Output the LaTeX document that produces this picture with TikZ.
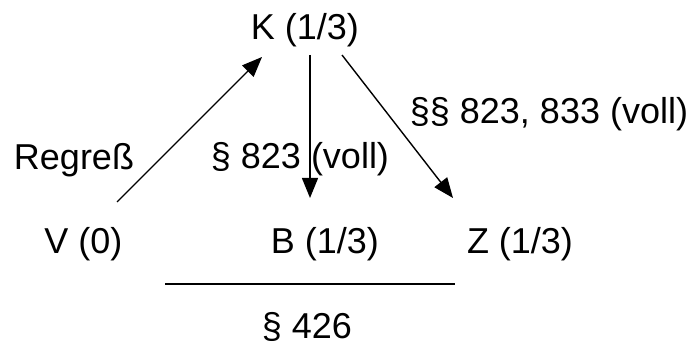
\documentclass[tikz,border=0pt]{standalone}
\usepackage{fontspec}
\setmainfont{Liberation Sans}
\usetikzlibrary{arrows.meta}
\tikzset{
  lbl/.style={anchor=base, inner sep=0pt, font=\fontsize{36}{40}\selectfont},
  arr/.style={line width=1.4pt, -{Triangle[length=20pt,width=16pt]}},
  rule/.style={line width=1.4pt}
}
\begin{document}
\begin{tikzpicture}[x=1pt,y=-1pt]
\useasboundingbox (0,0) rectangle (698,347);
\node[lbl] (K) at (305,40) {K (1/3)};
\node[lbl] (V) at (83.5,254) {V (0)};
\node[lbl] (B) at (325,254) {B (1/3)};
\node[lbl] (Z) at (520,254) {Z (1/3)};
\node[lbl] (reg) at (74,170) {Regreß};
\node[lbl] (l823) at (300,169) {§ 823 (voll)};
\node[lbl] (l833) at (549,124) {§§ 823, 833 (voll)};
\node[lbl] (p426) at (307,338) {§ 426};
\draw[arr] ([shift={(33.5,-52)}]V.base) -- ([shift={(-43,17)}]K.base);
\draw[arr] ([shift={(5,15)}]K.base) -- ([shift={(-15,-56)}]B.base);
\draw[arr] ([shift={(37,15)}]K.base) -- ([shift={(-67,-56)}]Z.base);
\draw[rule] ([shift={(-142,-54)}]p426.base) -- ([shift={(148,-54)}]p426.base);
\end{tikzpicture}
\end{document}
